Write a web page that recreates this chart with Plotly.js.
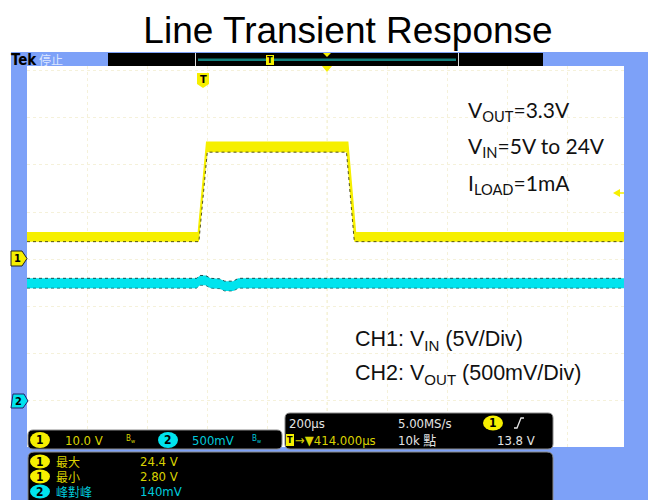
<!DOCTYPE html>
<html>
<head>
<meta charset="utf-8">
<script src="https://cdn.plot.ly/plotly-3.0.1.min.js"></script>
<style>html,body{margin:0;padding:0;background:#fff;}#chart{width:648px;height:500px;}</style>
</head>
<body>
<div id="chart"></div>
<script>
// ---- data (time in µs relative to trigger; CH1 in V; CH2 in mV deviation from 3.3 V) ----
const timeCh1Upper = [-587, -16, 12, 482, 508, 1403];
const ch1Upper     = [5.6, 5.6, 24.8, 24.8, 5.6, 5.6];
const timeCh1Lower = [-587, -14, 14, 478, 504, 1403];
const ch1Lower     = [3.7, 3.7, 22.7, 22.7, 3.7, 3.7];

const timeCh2  = [-587, -22, -10, 8, 25, 55, 72, 100, 118, 1403];
const ch2Upper = [50, 50, 80, 80, 50, 45, 20, 20, 50, 50];
const ch2Lower = [-55, -55, -25, -25, -55, -60, -85, -85, -55, -55];

const titleText = 'Line Transient Response';
const condLines = ['V<sub>OUT</sub>=3.3V', 'V<sub>IN</sub>=5V to 24V', 'I<sub>LOAD</sub>=1mA'];
const chLines = ['CH1: V<sub>IN</sub> (5V/Div)', 'CH2: V<sub>OUT</sub> (500mV/Div)'];
const ch1Scale = '10.0 V', ch2Scale = '500mV';
const timeScale = '200µs', sampleRate = '5.00MS/s', trigPos = '→▼414.000µs', recLen = '10k 點', trigLevel = '13.8 V';
const measNames = ['最大', '最小', '峰對峰'];
const measValues = ['24.4 V', '2.80 V', '140mV'];

// ---- helpers (pixel -> paper) ----
const W = 648, H = 500;
const fx = x => x / W, fy = y => 1 - y / H;
const YEL = '#F6EF00', CYN = '#00E4EE', BLUE = '#7DA1F8';
const TYEL = '#D9D200', TCYN = '#00C8DA', TWHT = '#E4E4E4';
const COND = 'DejaVu Sans Condensed, DejaVu Sans, Noto Sans CJK TC, sans-serif';

function rect(x0, y0, x1, y1, fill, layer, lc) {
  return {type: 'rect', xref: 'paper', yref: 'paper', x0: fx(x0), x1: fx(x1), y0: fy(y1), y1: fy(y0),
    fillcolor: fill, line: {width: lc ? 1 : 0, color: lc || fill}, layer: layer || 'above'};
}
function rrect(x0, y0, x1, y1, r, fill, lc) {
  const p = (x, y) => fx(x) + ',' + fy(y);
  const d = 'M' + p(x0 + r, y0) + ' L' + p(x1 - r, y0) + ' Q' + p(x1, y0) + ' ' + p(x1, y0 + r) +
    ' L' + p(x1, y1 - r) + ' Q' + p(x1, y1) + ' ' + p(x1 - r, y1) + ' L' + p(x0 + r, y1) +
    ' Q' + p(x0, y1) + ' ' + p(x0, y1 - r) + ' L' + p(x0, y0 + r) + ' Q' + p(x0, y0) + ' ' + p(x0 + r, y0) + ' Z';
  return {type: 'path', xref: 'paper', yref: 'paper', path: d, fillcolor: fill, line: {color: lc, width: 1}, layer: 'above'};
}
function poly(pts, fill, lc) {
  const d = 'M' + pts.map(q => fx(q[0]) + ',' + fy(q[1])).join(' L') + ' Z';
  return {type: 'path', xref: 'paper', yref: 'paper', path: d, fillcolor: fill, line: {color: lc || fill, width: lc ? 1 : 0}, layer: 'above'};
}
function ellipse(cx, cy, rx, ry, fill) {
  return {type: 'circle', xref: 'paper', yref: 'paper', x0: fx(cx - rx), x1: fx(cx + rx), y0: fy(cy + ry), y1: fy(cy - ry),
    fillcolor: fill, line: {width: 0}, layer: 'above'};
}
function txt(x, y, text, color, size, family, xa, extra) {
  return Object.assign({xref: 'paper', yref: 'paper', x: fx(x), y: fy(y), text: text, showarrow: false,
    xanchor: xa || 'left', yanchor: 'middle', borderpad: 0, font: {color: color, size: size, family: family || COND}}, extra || {});
}

const shapes = [];
const ann = [];

// frame
shapes.push(rect(11, 52, 648, 500, BLUE, 'below'));
shapes.push(rect(27, 66, 624, 447, '#FFFFFF', 'below'));
// centre vertical marker line
shapes.push({type: 'line', xref: 'paper', yref: 'paper', x0: fx(327), x1: fx(327), y0: fy(447), y1: fy(66),
  line: {color: '#F5F0C8', width: 1, dash: 'dot'}, layer: 'below'});

// top bar
shapes.push(rect(108, 53, 195, 66, '#000000'));
shapes.push(rect(196, 53, 458, 66, '#000000'));
shapes.push(rect(198, 58.5, 456, 61, '#12807E'));
shapes.push(rect(459, 53, 543, 66, '#000000'));
shapes.push(rect(195, 53, 196, 66, '#DDDDDD'));
shapes.push(rect(458, 53, 459, 66, '#DDDDDD'));
shapes.push(rect(266, 55, 274, 65, YEL));
ann.push(txt(270, 60, '<b>T</b>', '#000', 9, COND, 'center'));
shapes.push(poly([[323, 53], [331, 53], [327, 57]], YEL));
shapes.push(poly([[322, 66], [332, 66], [327, 72]], YEL));

// trigger marker T
shapes.push(poly([[197, 73], [209, 73], [209, 84], [203, 88], [197, 84]], YEL));
ann.push(txt(203, 79.5, '<b>T</b>', '#000', 11, COND, 'center'));

// channel markers
shapes.push(poly([[11, 251], [22, 251], [27, 258.5], [22, 266], [11, 266]], YEL, '#222'));
ann.push(txt(17, 258.5, '<b>1</b>', '#000', 11, COND, 'center'));
shapes.push(poly([[13, 394], [24, 394], [28, 401], [23, 408], [11, 408]], CYN, '#226'));
ann.push(txt(18.5, 401, '<b>2</b>', '#000', 11, COND, 'center'));

// trigger level arrow
shapes.push(poly([[620, 189], [613, 193], [620, 197]], YEL));
shapes.push({type: 'line', xref: 'paper', yref: 'paper', x0: fx(615), x1: fx(624), y0: fy(193), y1: fy(193), line: {color: YEL, width: 1.5}, layer: 'above'});

// top-left text
ann.push(txt(10, 59.5, '<b>Tek</b>', '#000', 15, COND));
ann.push(txt(38, 59.5, '停止', '#DCE6FF', 12, 'Noto Sans CJK TC'));

// bottom boxes
shapes.push(rrect(28, 430, 282, 449, 5, '#000000', '#8A8A8A'));
shapes.push(rrect(285, 413, 553, 449, 5, '#000000', '#8A8A8A'));
shapes.push(rrect(28, 452, 553, 506, 6, '#000000', '#8A8A8A'));

// box A
shapes.push(ellipse(40, 440, 10, 8, YEL));
ann.push(txt(40, 440, '<b>1</b>', '#000', 12, COND, 'center'));
ann.push(txt(64, 440, ch1Scale, TYEL, 13));
ann.push(txt(125, 439, 'B<sub>w</sub>', TYEL, 8));
shapes.push(ellipse(168, 440, 10, 8, CYN));
ann.push(txt(168, 440, '<b>2</b>', '#000', 12, COND, 'center'));
ann.push(txt(191, 440, ch2Scale, TCYN, 13));
ann.push(txt(251, 439, 'B<sub>w</sub>', TCYN, 8));

// box B
ann.push(txt(288, 423, timeScale, TWHT, 13));
ann.push(txt(397, 423, sampleRate, TWHT, 13));
shapes.push(ellipse(493, 423, 10, 7.5, YEL));
ann.push(txt(493, 423, '<b>1</b>', '#000', 12, COND, 'center'));
shapes.push({type: 'path', xref: 'paper', yref: 'paper', layer: 'above', line: {color: TWHT, width: 1.3},
  path: 'M' + fx(514) + ',' + fy(428) + ' L' + fx(517) + ',' + fy(428) + ' L' + fx(521) + ',' + fy(418) + ' L' + fx(524) + ',' + fy(418)});
shapes.push(rect(286, 434, 294, 446, YEL));
ann.push(txt(290, 440, '<b>T</b>', '#000', 9, COND, 'center'));
ann.push(txt(294, 440, trigPos, TYEL, 13));
ann.push(txt(397, 440, recLen, TWHT, 13));
ann.push(txt(496, 440, trigLevel, TWHT, 13));

// box C measurements
const measY = [461.5, 476.5, 491.5];
const measCol = [YEL, YEL, CYN];
const measTxt = [TYEL, TYEL, TCYN];
const measCh = ['1', '1', '2'];
for (let i = 0; i < 3; i++) {
  shapes.push(ellipse(40, measY[i], 10, 7, measCol[i]));
  ann.push(txt(40, measY[i], '<b>' + measCh[i] + '</b>', '#000', 12, COND, 'center'));
  ann.push(txt(55, measY[i], measNames[i], measTxt[i], 12, 'Noto Sans CJK TC'));
  ann.push(txt(139, measY[i], measValues[i], measTxt[i], 13));
}

// annotation texts on screen
const condY = [111, 147.5, 184];
condLines.forEach((t, i) => ann.push(txt(467, condY[i], t, '#111', 21, 'Lato, Carlito, sans-serif')));
const chY = [340, 374];
chLines.forEach((t, i) => ann.push(txt(354, chY[i], t, '#111', 21.5, 'Liberation Sans, Arial, sans-serif')));

const traces = [
  {x: timeCh1Upper, y: ch1Upper, mode: 'lines', line: {color: YEL, width: 1.5}, yaxis: 'y', hoverinfo: 'skip'},
  {x: timeCh1Lower, y: ch1Lower, mode: 'lines', fill: 'tonexty', fillcolor: YEL,
   line: {color: 'rgba(40,40,0,0.8)', width: 1, dash: 'dot'}, yaxis: 'y', hoverinfo: 'skip'},
  {x: timeCh2, y: ch2Upper, mode: 'lines', line: {color: 'rgba(0,40,40,0.8)', width: 1, dash: 'dot'}, yaxis: 'y2', hoverinfo: 'skip'},
  {x: timeCh2, y: ch2Lower, mode: 'lines', fill: 'tonexty', fillcolor: CYN,
   line: {color: 'rgba(0,60,60,0.6)', width: 1, dash: 'dot'}, yaxis: 'y2', hoverinfo: 'skip'}
];

const layout = {
  width: W, height: H,
  margin: {l: 0, r: 0, t: 0, b: 0, pad: 0},
  paper_bgcolor: '#FFFFFF', plot_bgcolor: 'rgba(0,0,0,0)',
  showlegend: false,
  title: {text: titleText, x: fx(348), xanchor: 'center', xref: 'paper', y: fy(30), yanchor: 'middle', yref: 'container',
    font: {family: 'Liberation Sans, Arial, sans-serif', size: 37, color: '#000'}},
  xaxis: {domain: [fx(27), fx(624)], range: [-587, 1403], showticklabels: false, ticks: '', zeroline: false, showline: false,
    showgrid: true, gridcolor: '#F5F1DA', griddash: 'dot', gridwidth: 1, tick0: 414, dtick: 200, fixedrange: true},
  yaxis: {domain: [fy(447), fy(66)], range: [-39.9, 41.0], showticklabels: false, ticks: '', zeroline: false, showline: false,
    showgrid: true, gridcolor: '#F5F1DA', griddash: 'dot', gridwidth: 1, tick0: 0, dtick: 10, fixedrange: true},
  yaxis2: {overlaying: 'y', range: [-1741, 2304], visible: false, fixedrange: true},
  shapes: shapes,
  annotations: ann
};

Plotly.newPlot('chart', traces, layout, {staticPlot: true, displayModeBar: false});
</script>
</body>
</html>
